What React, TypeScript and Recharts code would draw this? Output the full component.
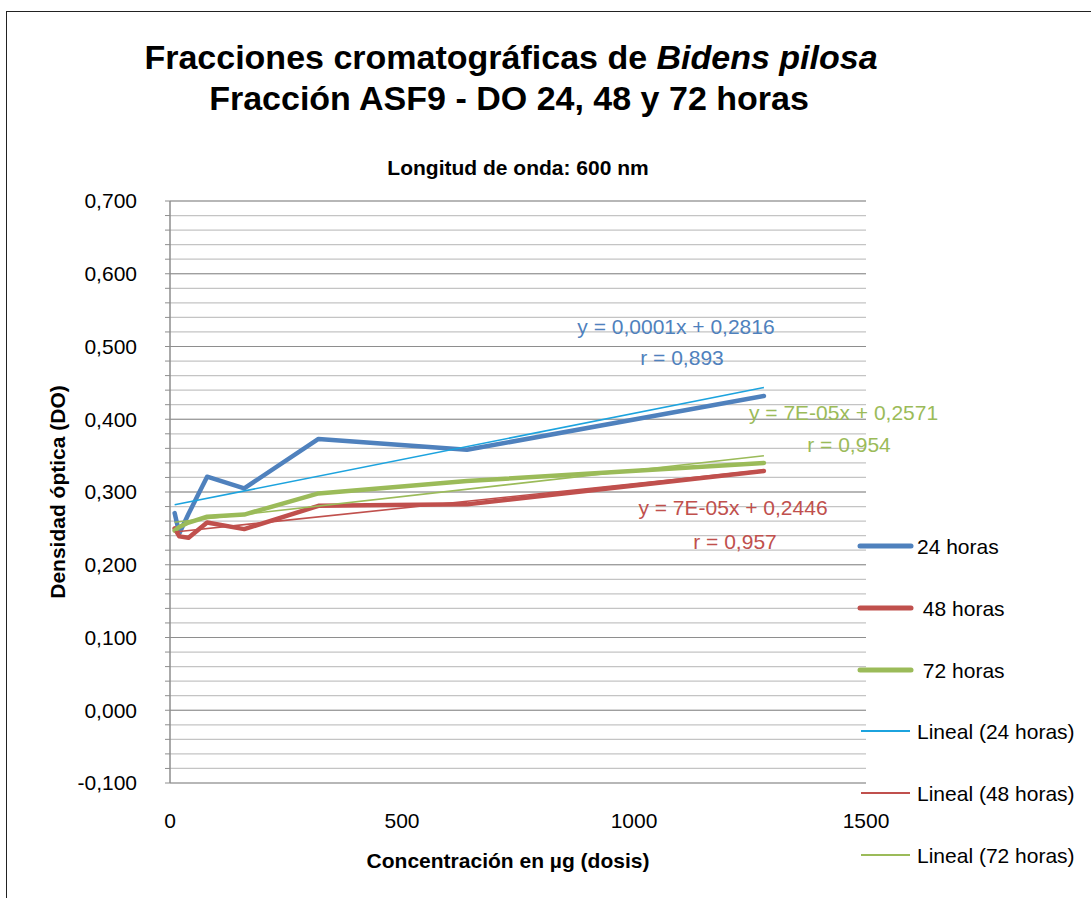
import React from 'react';
import { LineChart, Line, XAxis, YAxis, CartesianGrid } from 'recharts';

// Doses (µg) and optical density readings
const doses = [10, 20, 40, 80, 160, 320, 640, 1280];
const do24 = [0.271, 0.243, 0.27, 0.321, 0.305, 0.373, 0.358, 0.432];
const do48 = [0.25, 0.239, 0.237, 0.258, 0.249, 0.281, 0.283, 0.329];
const do72 = [0.247, 0.252, 0.258, 0.266, 0.269, 0.298, 0.315, 0.34];

const xTicks = [0, 500, 1000, 1500];
const yMajorTicks = [-0.1, 0, 0.1, 0.2, 0.3, 0.4, 0.5, 0.6, 0.7];
const yMinorTicks = [
  -0.1, -0.08, -0.06, -0.04, -0.02, 0, 0.02, 0.04, 0.06, 0.08, 0.1, 0.12, 0.14, 0.16, 0.18, 0.2,
  0.22, 0.24, 0.26, 0.28, 0.3, 0.32, 0.34, 0.36, 0.38, 0.4, 0.42, 0.44, 0.46, 0.48, 0.5, 0.52,
  0.54, 0.56, 0.58, 0.6, 0.62, 0.64, 0.66, 0.68, 0.7,
];

const trendLabels24 = ['y = 0,0001x + 0,2816', 'r = 0,893'];
const trendLabels48 = ['y = 7E-05x + 0,2446', 'r = 0,957'];
const trendLabels72 = ['y = 7E-05x + 0,2571', 'r = 0,954'];

const C24 = '#4F81BD';
const C48 = '#C0504D';
const C72 = '#9BBB59';
const CT24 = '#1CA3DE';

const FONT = '"Liberation Sans", Arial, Helvetica, sans-serif';
const FS = 21;

function toPoints(ys: number[]) {
  return doses.map((x, i) => ({ x, y: ys[i] }));
}

function trend(ys: number[]) {
  const n = doses.length;
  const mx = doses.reduce((a, b) => a + b, 0) / n;
  const my = ys.reduce((a, b) => a + b, 0) / n;
  let sxy = 0;
  let sxx = 0;
  for (let i = 0; i < n; i++) {
    sxy += (doses[i] - mx) * (ys[i] - my);
    sxx += (doses[i] - mx) * (doses[i] - mx);
  }
  const slope = sxy / sxx;
  const b = my - slope * mx;
  const x0 = doses[0];
  const x1 = doses[n - 1];
  return [
    { x: x0, y: b + slope * x0 },
    { x: x1, y: b + slope * x1 },
  ];
}

const fmtY = (v: number) => {
  const isMajor = Math.abs(v * 10 - Math.round(v * 10)) < 1e-6;
  return isMajor ? v.toFixed(3).replace('.', ',') : '';
};

const legendItems = [
  { label: '24 horas', color: C24, width: 5 },
  { label: ' 48 horas', color: C48, width: 5 },
  { label: ' 72 horas', color: C72, width: 5 },
  { label: 'Lineal (24 horas)', color: CT24, width: 2 },
  { label: 'Lineal (48 horas)', color: C48, width: 2 },
  { label: 'Lineal (72 horas)', color: C72, width: 2 },
];

function Txt(props: {
  cx: number;
  cy: number;
  size: number;
  bold?: boolean;
  color?: string;
  rotate?: number;
  anchor?: 'center' | 'left';
  children: React.ReactNode;
}) {
  const { cx, cy, size, bold, color, rotate, anchor, children } = props;
  const tx = anchor === 'left' ? '0' : '-50%';
  return (
    <div
      style={{
        position: 'absolute',
        left: cx,
        top: cy,
        transform: `translate(${tx}, -50%)${rotate ? ` rotate(${rotate}deg)` : ''}`,
        transformOrigin: anchor === 'left' ? 'left center' : 'center center',
        fontFamily: FONT,
        fontSize: size,
        fontWeight: bold ? 'bold' : 'normal',
        color: color || '#000',
        whiteSpace: 'pre',
        lineHeight: 1,
      }}
    >
      {children}
    </div>
  );
}

export default function App() {
  const s24 = toPoints(do24);
  const s48 = toPoints(do48);
  const s72 = toPoints(do72);
  const t24 = trend(do24);
  const t48 = trend(do48);
  const t72 = trend(do72);

  return (
    <div
      style={{
        position: 'absolute',
        left: 0,
        top: 0,
        width: 1091,
        height: 898,
        overflow: 'hidden',
        background: '#fff',
        fontFamily: FONT,
      }}
    >
      <div
        style={{
          position: 'absolute',
          left: 6,
          top: 11,
          width: 1200,
          height: 1000,
          borderLeft: '1px solid #222',
          borderTop: '1px solid #222',
        }}
      />
      <div style={{ position: 'absolute', left: 0, top: 0 }}>
        <LineChart width={1091} height={898} margin={{ top: 201, right: 225, bottom: 55, left: 100 }}>
          <CartesianGrid vertical={false} stroke="#c4c4c4" strokeWidth={1.2} />
          <CartesianGrid yAxisId="major" vertical={false} stroke="#8e8e8e" strokeWidth={1.2} />
          <XAxis
            type="number"
            dataKey="x"
            domain={[0, 1500]}
            ticks={xTicks}
            interval={0}
            allowDataOverflow
            axisLine={false}
            tickLine={false}
            tickSize={0}
            tickMargin={30}
            height={60}
            tick={{ fontSize: FS, fill: '#000', fontFamily: FONT }}
          />
          <YAxis
            type="number"
            domain={[-0.1, 0.7]}
            ticks={yMinorTicks}
            interval={0}
            allowDataOverflow
            width={70}
            tickFormatter={fmtY}
            axisLine={{ stroke: '#8e8e8e', strokeWidth: 1.5 }}
            tickLine={{ stroke: '#8e8e8e' }}
            tickSize={5}
            tickMargin={28}
            tick={{ fontSize: FS, fill: '#000', fontFamily: FONT }}
          />
          <YAxis
            yAxisId="major"
            type="number"
            domain={[-0.1, 0.7]}
            ticks={yMajorTicks}
            interval={0}
            allowDataOverflow
            hide
          />
          <Line data={s24} dataKey="y" name="24 horas" stroke={C24} strokeWidth={4.5} dot={false} strokeLinecap="round" strokeLinejoin="round" isAnimationActive={false} />
          <Line data={s48} dataKey="y" name="48 horas" stroke={C48} strokeWidth={4.5} dot={false} strokeLinecap="round" strokeLinejoin="round" isAnimationActive={false} />
          <Line data={s72} dataKey="y" name="72 horas" stroke={C72} strokeWidth={4.5} dot={false} strokeLinecap="round" strokeLinejoin="round" isAnimationActive={false} />
          <Line data={t24} dataKey="y" name="Lineal (24 horas)" stroke={CT24} strokeWidth={1.6} dot={false} isAnimationActive={false} />
          <Line data={t48} dataKey="y" name="Lineal (48 horas)" stroke={C48} strokeWidth={1.6} dot={false} isAnimationActive={false} />
          <Line data={t72} dataKey="y" name="Lineal (72 horas)" stroke={C72} strokeWidth={1.6} dot={false} isAnimationActive={false} />
        </LineChart>
      </div>

      <Txt cx={511} cy={57} size={34} bold>
        Fracciones cromatográficas de <i>Bidens pilosa</i>
      </Txt>
      <Txt cx={509} cy={98} size={34} bold>
        Fracción ASF9 - DO 24, 48 y 72 horas
      </Txt>
      <Txt cx={518} cy={167} size={FS} bold>
        Longitud de onda: 600 nm
      </Txt>
      <Txt cx={57} cy={492} size={FS} bold rotate={-90}>
        Densidad óptica (DO)
      </Txt>
      <Txt cx={508} cy={860} size={FS} bold>
        Concentración en µg (dosis)
      </Txt>

      <Txt cx={676} cy={326} size={FS} color={C24}>{trendLabels24[0]}</Txt>
      <Txt cx={682} cy={357} size={FS} color={C24}>{trendLabels24[1]}</Txt>
      <Txt cx={749} cy={412} size={FS} color={C72} anchor="left">{trendLabels72[0]}</Txt>
      <Txt cx={849} cy={444} size={FS} color={C72}>{trendLabels72[1]}</Txt>
      <Txt cx={733} cy={507} size={FS} color={C48}>{trendLabels48[0]}</Txt>
      <Txt cx={735} cy={541} size={FS} color={C48}>{trendLabels48[1]}</Txt>

      {legendItems.map((it, i) => {
        const cy = 546 + i * 61.8;
        return (
          <div key={it.label} style={{ position: 'absolute', left: 0, top: 0 }}>
            <svg
              width={70}
              height={10}
              style={{ position: 'absolute', left: 852, top: cy - 5, overflow: 'visible' }}
            >
              <line
                x1={it.width > 3 ? 8 : 9}
                x2={it.width > 3 ? 59 : 58}
                y1={5}
                y2={5}
                stroke={it.color}
                strokeWidth={it.width}
                strokeLinecap={it.width > 3 ? 'round' : 'butt'}
              />
            </svg>
            <Txt cx={917} cy={cy} size={FS} anchor="left">
              {it.label}
            </Txt>
          </div>
        );
      })}
    </div>
  );
}
